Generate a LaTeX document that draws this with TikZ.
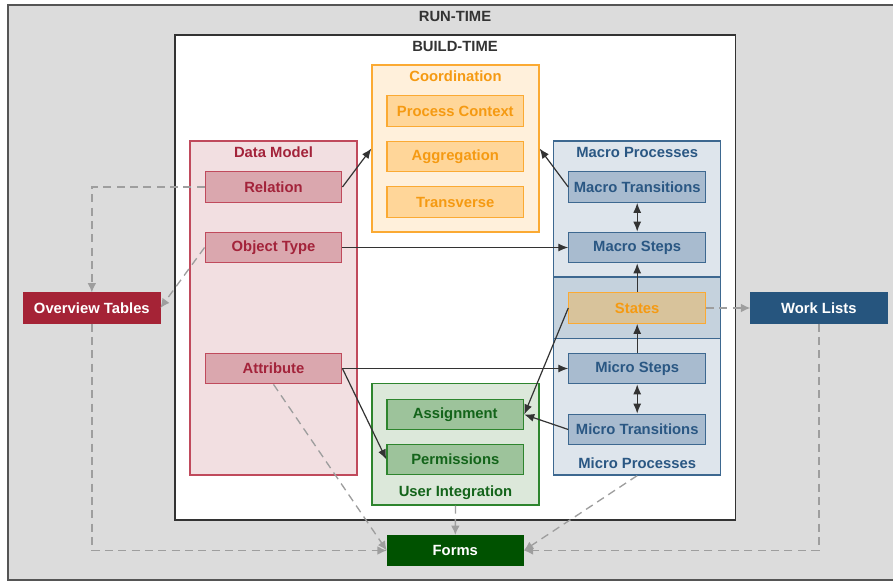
\documentclass[tikz,border=0pt]{standalone}
\usepackage{xcolor}
\usepackage{tikz}
\usepackage{fontspec}
\setmainfont{Liberation Sans}
\usetikzlibrary{calc,positioning,arrows.meta}

\definecolor{runfill}{HTML}{DCDCDC}
\definecolor{runline}{HTML}{555555}
\definecolor{buildline}{HTML}{333333}
\definecolor{titlegray}{HTML}{333333}
\definecolor{darkarr}{HTML}{333333}
\definecolor{linkgray}{HTML}{9E9E9E}
\definecolor{dmline}{HTML}{C04A5C}
\definecolor{dmfill}{HTML}{F2DFE1}
\definecolor{dmitem}{HTML}{DAA7AE}
\definecolor{dmtext}{HTML}{A3233A}
\definecolor{coline}{HTML}{FBAA33}
\definecolor{cofill}{HTML}{FFF0DB}
\definecolor{coitem}{HTML}{FFD699}
\definecolor{cotext}{HTML}{F59A12}
\definecolor{maline}{HTML}{3D6890}
\definecolor{mafill}{HTML}{DEE5EC}
\definecolor{maband}{HTML}{C5D2DD}
\definecolor{maitem}{HTML}{A8BBCF}
\definecolor{matext}{HTML}{2A5783}
\definecolor{stfill}{HTML}{D8C39B}
\definecolor{uiline}{HTML}{2E852E}
\definecolor{uifill}{HTML}{DCE8DA}
\definecolor{uiitem}{HTML}{9DC39B}
\definecolor{uitext}{HTML}{13641A}
\definecolor{ovfill}{HTML}{A52336}
\definecolor{wlfill}{HTML}{26557E}
\definecolor{fofill}{HTML}{005200}

\begin{document}
\begin{tikzpicture}[x=0.75pt,y=0.75pt,yscale=-1,xscale=1,
  every node/.style={font=\bfseries\fontsize{11.1}{13}\selectfont, inner sep=0pt},
  frame/.style={draw, line width=0.9pt, minimum width=125.25pt},
  item/.style={draw, line width=0.9pt, minimum width=102.5pt, minimum height=22.9pt},
  outside/.style={draw=#1, fill=#1, text=white, line width=0.6pt, minimum width=102.2pt, minimum height=22.7pt},
  flow/.style={draw=darkarr, line width=0.9pt, -{Latex[length=7.5pt,width=6pt]}},
  both/.style={draw=darkarr, line width=0.9pt, {Latex[length=7.5pt,width=6pt]}-{Latex[length=7.5pt,width=6pt]}},
  link/.style={draw=linkgray, line width=1pt, dash pattern=on 6pt off 4pt, -{Latex[length=7pt,width=6.5pt]}},
]
  \clip (0,0) rectangle (893,581);

  % Run-time and build-time areas
  \draw [fill=runfill, draw=runline, line width=1pt] (8,5) rectangle (894,580);
  \node [text=titlegray] (runlabel) at (455,16) {RUN-TIME};
  \draw [fill=white, draw=buildline, line width=1pt] (175,35) rectangle (735.7,520);
  \node [text=titlegray] (buildlabel) at (455,46) {BUILD-TIME};

  % Containers
  \node [frame, draw=dmline, fill=dmfill, minimum height=250.5pt] (datamodel) at (273.5,308) {};
  \node [text=dmtext] (datamodeltitle) at (273.5,152) {Data Model};
  \node [frame, draw=coline, fill=cofill, minimum height=125.25pt] (coordination) at (455.5,148.5) {};
  \node [text=cotext] (coordinationtitle) at (455.5,76) {Coordination};
  \node [frame, draw=maline, fill=mafill, minimum height=250.5pt] (processes) at (637.2,308) {};
  \draw [fill=maband, draw=maline, line width=0.9pt] (553.7,277) rectangle (720.7,338.7);
  \node [text=matext] (macrotitle) at (637.2,152) {Macro Processes};
  \node [text=matext] (microtitle) at (637.2,463) {Micro Processes};
  \node [frame, draw=uiline, fill=uifill, minimum height=91pt] (userint) at (455.5,444.35) {};
  \node [text=uitext] (userinttitle) at (455.5,493) {User Integration};

  % Data model items
  \node [item, draw=dmline, fill=dmitem, text=dmtext] (relation) at (273.5,187) {Relation};
  \node [item, draw=dmline, fill=dmitem, text=dmtext] (objtype) at (273.5,247.5) {Object Type};
  \node [item, draw=dmline, fill=dmitem, text=dmtext] (attribute) at (273.5,368.5) {Attribute};

  % Coordination items
  \node [item, draw=coline, fill=coitem, text=cotext] (context) at (455.3,111) {Process Context};
  \node [item, draw=coline, fill=coitem, text=cotext] (aggregation) at (455.3,156.5) {Aggregation};
  \node [item, draw=coline, fill=coitem, text=cotext] (transverse) at (455.3,202) {Transverse};

  % Process items
  \node [item, draw=maline, fill=maitem, text=matext] (macrotrans) at (637.2,187) {Macro Transitions};
  \node [item, draw=maline, fill=maitem, text=matext] (macrosteps) at (637.2,247.5) {Macro Steps};
  \node [item, draw=coline, fill=stfill, text=cotext] (states) at (637.2,308) {States};
  \node [item, draw=maline, fill=maitem, text=matext] (microsteps) at (637.2,368.5) {Micro Steps};
  \node [item, draw=maline, fill=maitem, text=matext] (microtrans) at (637.2,429.5) {Micro Transitions};

  % User integration items
  \node [item, draw=uiline, fill=uiitem, text=uitext] (assignment) at (455.3,414.5) {Assignment};
  \node [item, draw=uiline, fill=uiitem, text=uitext] (permissions) at (455.3,459.5) {Permissions};

  % Run-time artefacts
  \node [outside=ovfill] (overview) at (91.85,308) {Overview Tables};
  \node [outside=wlfill] (worklists) at (818.85,308) {Work Lists};
  \node [outside=fofill] (forms) at (455.3,550.5) {Forms};

  % Build-time relations
  \draw [flow] (relation.east) -- (coordination.west);
  \draw [flow] (macrotrans.west) -- (coordination.east);
  \draw [both] (macrotrans) -- (macrosteps);
  \draw [flow] (objtype.east) -- (macrosteps.west);
  \draw [flow] (states) -- (macrosteps);
  \draw [flow] (microsteps) -- (states);
  \draw [both] (microsteps) -- (microtrans);
  \draw [flow] (attribute.east) -- (microsteps.west);
  \draw [flow] (attribute.east) -- (permissions.west);
  \draw [flow] (states.west) -- (assignment.east);
  \draw [flow] (microtrans.west) -- (assignment.east);

  % Run-time links
  \draw [link] (relation.west) -| (overview.north);
  \draw [link] (objtype.west) -- (overview.east);
  \draw [link] (overview.south) |- (forms.west);
  \draw [link] (attribute.south) -- (forms.west);
  \draw [link] (userint.south) -- (forms.north);
  \draw [link] (processes.south) -- (forms.east);
  \draw [link] (states.east) -- (worklists.west);
  \draw [link] (worklists.south) |- (forms.east);
\end{tikzpicture}
\end{document}
